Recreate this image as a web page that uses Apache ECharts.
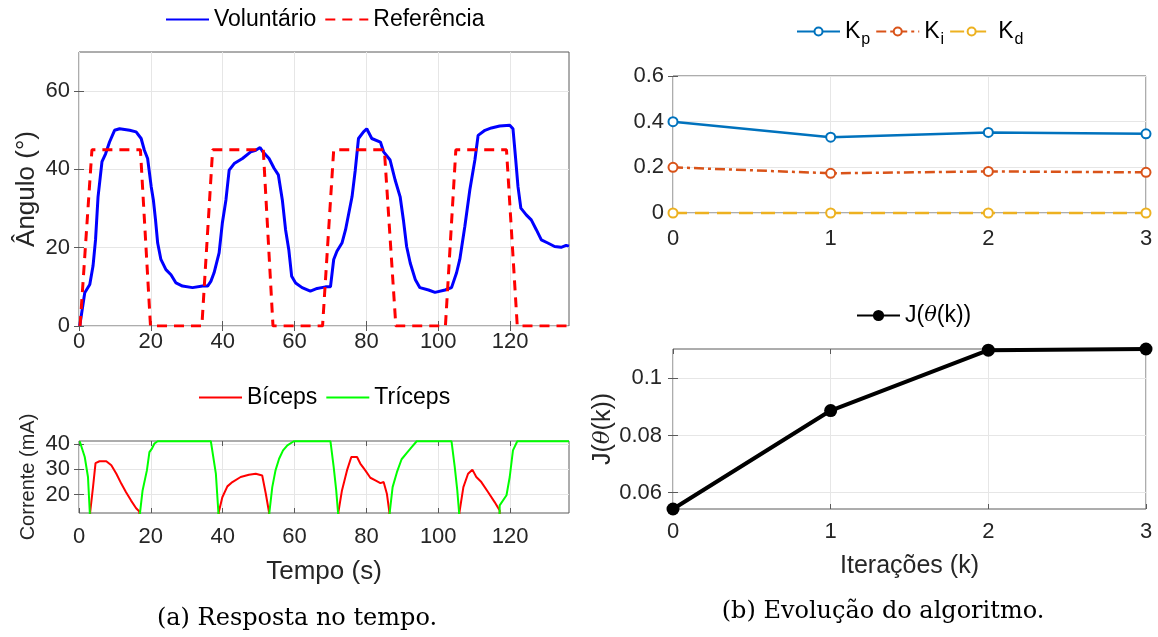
<!DOCTYPE html>
<html>
<head>
<meta charset="utf-8">
<script src="https://cdn.jsdelivr.net/npm/echarts@6/dist/echarts.min.js"></script>
<style>
html, body { margin: 0; padding: 0; background: #fff; }
#chart { width: 1158px; height: 637px; }
</style>
</head>
<body>
<div id="chart"></div>
<script>
// (a) angulo do voluntario x tempo
const tempoVol = [0.2, 1.6, 3.0, 3.9, 4.6, 5.3, 6.4, 7.4, 8.5, 9.9, 11.3, 14.1, 15.9, 17.3, 18.2, 19.1, 20.1, 20.7, 21.3, 21.9, 22.8, 24.2, 25.6, 27.0, 28.8, 31.6, 34.4, 35.8, 36.7, 37.6, 39.0, 39.9, 40.9, 41.8, 43.2, 45.5, 47.8, 49.2, 50.4, 51.2, 52.9, 54.3, 55.5, 56.6, 57.5, 58.4, 59.2, 60.3, 62.1, 64.4, 66.3, 68.6, 70.0, 70.9, 71.8, 73.2, 74.2, 75.1, 76.0, 76.9, 77.8, 79.2, 80.1, 81.5, 83.9, 84.8, 86.6, 88.0, 89.4, 90.3, 91.2, 92.2, 93.6, 94.9, 97.3, 99.1, 101.9, 103.7, 105.1, 106.0, 107.4, 108.8, 110.2, 111.1, 113.0, 114.8, 117.1, 119.9, 120.8, 121.5, 122.2, 123.0, 124.5, 125.9, 127.3, 128.7, 130.5, 132.4, 134.2, 135.6, 136.4];
const anguloVol = [0, 8.5, 10.6, 15.3, 22, 33, 42, 44, 47, 50, 50.4, 50, 49.6, 47.9, 44.9, 42.8, 35.6, 32.2, 27.1, 21.2, 17, 14.4, 13.1, 11, 10.2, 9.8, 10.2, 10.2, 11.4, 13.6, 18.7, 26.3, 32.2, 39.8, 41.5, 42.8, 44.5, 44.9, 45.6, 44.5, 42.8, 40.3, 38.6, 32.2, 24.6, 19.5, 12.7, 11, 9.8, 8.9, 9.6, 10, 10, 17, 19.1, 21.2, 24.6, 28.8, 33, 39.8, 47.9, 49.6, 50.4, 47.9, 47, 44.5, 42.4, 37.3, 33, 27.1, 20.3, 16.1, 11.9, 9.8, 9.2, 8.6, 9.2, 9.8, 13.6, 17, 25.4, 34.8, 42.4, 48.7, 50, 50.6, 51.1, 51.3, 50.4, 43.2, 35.6, 30.1, 28.4, 27.1, 24.6, 22, 21.2, 20.3, 20.1, 20.6, 20.4];
const tempoRef = [0.3, 3.6, 17.1, 19.9, 34.2, 37.2, 51.3, 54.0, 67.8, 70.9, 85.0, 88.2, 102.0, 104.9, 119.0, 122.0, 136.4];
const anguloRef = [0, 45, 45, 0, 0, 45, 45, 0, 0, 45, 45, 0, 0, 45, 45, 0, 0];

// correntes de estimulacao (0 = desligado)
const tempoBic = [0, 3.0, 3.1, 3.9, 4.6, 5.7, 7.6, 9.0, 10.4, 11.8, 13.1, 14.5, 15.9, 16.8, 17.0, 38.8, 38.9, 39.9, 41.3, 42.7, 45.0, 47.3, 49.2, 51.0, 52.0, 52.9, 53.0, 72.1, 72.2, 73.2, 74.6, 75.8, 77.4, 78.3, 79.7, 81.1, 82.5, 83.9, 84.8, 85.7, 86.4, 86.5, 105.8, 105.9, 107.0, 108.3, 109.5, 110.6, 112.0, 113.9, 115.7, 117.1, 117.3, 136.4];
const corrBic = [0, 0, 13, 23, 32.5, 33.2, 33.2, 31.6, 28.3, 24.3, 21, 17.7, 14.7, 13.4, 0, 0, 13.1, 19, 23.3, 25, 27, 27.9, 28.3, 27.6, 20.4, 13.1, 0, 0, 13.1, 21.7, 29.6, 34.9, 34.9, 32.3, 29.6, 26.7, 25.7, 24.6, 25, 20.4, 13.1, 0, 0, 13.1, 23, 28.3, 29.9, 27, 25, 21, 17.1, 13.8, 0, 0];
const tempoTri = [0.2, 1.6, 2.5, 3.0, 3.1, 16.9, 17.0, 17.7, 18.9, 19.6, 20.3, 21.0, 21.9, 36.7, 38.1, 38.8, 38.9, 52.9, 53.0, 53.8, 54.7, 55.7, 56.8, 58.0, 59.8, 70.0, 70.9, 71.6, 72.1, 72.2, 86.4, 86.5, 87.3, 88.5, 89.8, 91.2, 92.6, 94.0, 103.7, 104.6, 105.3, 105.8, 105.9, 117.0, 117.1, 119.0, 119.9, 120.8, 122.0, 136.4];
const corrTri = [41.1, 34.9, 27, 13.1, 0, 0, 13.1, 21.7, 29.6, 36.8, 38.2, 40.2, 41.1, 41.1, 28.3, 13.1, 0, 0, 13.1, 23, 29.6, 34.2, 37.5, 39.5, 41.1, 41.1, 30.9, 21.7, 13.1, 0, 0, 13.1, 23, 28.9, 34, 36.4, 38.8, 41.1, 41.1, 30.9, 21.7, 13.1, 0, 0, 15.8, 19.8, 27, 37.5, 41.1, 41.1];

// (b) evolucao do algoritmo
const iteracoes = [0, 1, 2, 3];
const kp = [0.400, 0.332, 0.353, 0.347];
const ki = [0.200, 0.174, 0.182, 0.178];
const kd = [0, 0, 0, 0];
const custoJ = [0.0543, 0.0887, 0.1098, 0.1102];

const ticksTempo = [0, 20, 40, 60, 80, 100, 120];
const ticksAngulo = [0, 20, 40, 60];
const ticksCorrente = [20, 30, 40];
const ticksIter = [0, 1, 2, 3];
const ticksGanho = [0, 0.2, 0.4, 0.6];
const ticksJ = [0.06, 0.08, 0.1];

function zip(xs, ys) {
  return xs.map((x, i) => [x, ys[i]]);
}

const FONT = 'Liberation Sans';
const boxColor = '#5a5a5a';
const gridColor = '#e6e6e6';

function mkAxis(dim, gridIndex, min, max, cfg) {
  const mirror = !!cfg.mirror;
  const ax = {
    type: 'value',
    gridIndex: gridIndex,
    min: min,
    max: max,
    position: dim === 'x' ? (mirror ? 'top' : 'bottom') : (mirror ? 'right' : 'left'),
    axisLine: { show: false },
    axisTick: { show: true, inside: true, length: 5, customValues: cfg.ticks, lineStyle: { color: boxColor, width: 1 } },
    axisLabel: {
      show: !mirror,
      customValues: cfg.ticks,
      color: '#262626',
      fontFamily: FONT,
      fontSize: 22,
      margin: cfg.margin || 8,
      showMaxLabel: true,
      showMinLabel: true
    },
    splitLine: { show: !mirror, lineStyle: { color: gridColor, width: 1 } }
  };
  if (cfg.name && !mirror) {
    ax.name = cfg.name;
    ax.nameLocation = 'middle';
    ax.nameGap = cfg.nameGap;
    ax.nameTextStyle = Object.assign({ fontFamily: FONT, fontSize: cfg.nameSize || 25, color: '#262626' }, cfg.nameStyle || {});
  }
  return ax;
}

function both(dim, gridIndex, min, max, cfg) {
  return [mkAxis(dim, gridIndex, min, max, cfg), mkAxis(dim, gridIndex, min, max, Object.assign({}, cfg, { mirror: true }))];
}

const xAxes = [].concat(
  both('x', 0, 0, 136.4, { ticks: ticksTempo, margin: 5 }),
  both('x', 1, 0, 136.4, { ticks: ticksTempo, margin: 13, name: 'Tempo (s)', nameGap: 46, nameSize: 26 }),
  both('x', 2, 0, 3, { ticks: ticksIter, margin: 15 }),
  both('x', 3, 0, 3, { ticks: ticksIter, margin: 12, name: 'Iterações (k)', nameGap: 45 })
);
const yAxes = [].concat(
  both('y', 0, 0, 70, { ticks: ticksAngulo, margin: 9, name: 'Ângulo (°)', nameGap: 39, nameSize: 26 }),
  both('y', 1, 12.8, 41.2, { ticks: ticksCorrente, margin: 9, name: 'Corrente (mA)', nameGap: 41, nameSize: 20 }),
  both('y', 2, 0, 0.6, { ticks: ticksGanho, margin: 9 }),
  both('y', 3, 0.0543, 0.1102, { ticks: ticksJ, margin: 11, name: '{a|J(}{b|θ}{a|(k))}', nameGap: 56,
    nameStyle: { rich: { a: { fontFamily: FONT, fontSize: 25, color: '#262626' }, b: { fontFamily: 'DejaVu Serif', fontStyle: 'italic', fontSize: 23, color: '#262626' } } } })
);

const gridBase = { show: true, borderColor: boxColor, borderWidth: 1, backgroundColor: '#fff' };
const grids = [
  Object.assign({ left: 79, top: 52, width: 490, height: 274 }, gridBase),
  Object.assign({ left: 79, top: 441, width: 490, height: 72 }, gridBase),
  Object.assign({ left: 673, top: 76, width: 473, height: 137 }, gridBase),
  Object.assign({ left: 673, top: 349, width: 473, height: 160 }, gridBase)
];

function lineSeries(name, gi, data, color, width, type, extra) {
  return Object.assign({
    name: name,
    type: 'line',
    xAxisIndex: gi * 2,
    yAxisIndex: gi * 2,
    data: data,
    symbol: 'none',
    color: color,
    lineStyle: { color: color, width: width, type: type || 'solid' },
    emphasis: { disabled: true },
    animation: false
  }, extra || {});
}

const marcador = { symbol: 'emptyCircle', symbolSize: 9, itemStyle: { borderWidth: 2 }, clip: false };
const series = [
  lineSeries('Voluntário', 0, zip(tempoVol, anguloVol), '#0000ff', 3),
  lineSeries('Referência', 0, zip(tempoRef, anguloRef), '#ff0000', 3, [10, 7]),
  lineSeries('Bíceps', 1, zip(tempoBic, corrBic), '#ff0000', 2),
  lineSeries('Tríceps', 1, zip(tempoTri, corrTri), '#00ff00', 2),
  lineSeries('Kp', 2, zip(iteracoes, kp), '#0072bd', 2.5, 'solid', marcador),
  lineSeries('Ki', 2, zip(iteracoes, ki), '#d95319', 2.5, [10, 4, 3, 4], marcador),
  lineSeries('Kd', 2, zip(iteracoes, kd), '#edb120', 2.5, [14, 8], marcador),
  lineSeries('J', 3, zip(iteracoes, custoJ), '#000000', 4, 'solid', { symbol: 'circle', symbolSize: 13, clip: false })
];

const legendText = { fontFamily: FONT, fontSize: 23, color: '#000' };
const legendBase = { orient: 'horizontal', itemWidth: 43, itemHeight: 12, itemGap: 8, padding: 0, textStyle: legendText, selectedMode: false };
const semMarcador = { itemStyle: { opacity: 0 } };

const option = {
  backgroundColor: '#fff',
  animation: false,
  grid: grids,
  xAxis: xAxes,
  yAxis: yAxes,
  legend: [
    Object.assign({}, legendBase, semMarcador, { data: ['Voluntário', 'Referência'], left: 165, top: 8 }),
    Object.assign({}, legendBase, semMarcador, { data: ['Bíceps', 'Tríceps'], left: 198, top: 386 }),
    Object.assign({}, legendBase, {
      data: ['Kp', 'Ki', 'Kd'], left: 796, top: 20, itemHeight: 10, itemGap: 5,
      formatter: n => '{k|K}{s|' + n.slice(1) + '}',
      textStyle: Object.assign({}, legendText, { rich: { k: { fontFamily: FONT, fontSize: 23, color: '#000' }, s: { fontFamily: FONT, fontSize: 16, color: '#000', padding: [16, 0, 0, 1] } } })
    }),
    Object.assign({}, legendBase, {
      data: ['J'], left: 856, top: 304, itemHeight: 14,
      formatter: () => '{a|J(}{b|θ}{a|(k))}',
      textStyle: Object.assign({}, legendText, { rich: { a: { fontFamily: FONT, fontSize: 23, color: '#000' }, b: { fontFamily: 'DejaVu Serif', fontStyle: 'italic', fontSize: 21, color: '#000' } } })
    })
  ],
  graphic: [
    { type: 'text', x: 297, y: 619, style: { text: '(a) Resposta no tempo.', font: '24px "DejaVu Serif"', fill: '#000', textAlign: 'center', textVerticalAlign: 'middle' } },
    { type: 'text', x: 883, y: 612, style: { text: '(b) Evolução do algoritmo.', font: '24px "DejaVu Serif"', fill: '#000', textAlign: 'center', textVerticalAlign: 'middle' } }
  ],
  series: series
};

const chart = echarts.init(document.getElementById('chart'), null, { renderer: 'canvas' });
chart.setOption(option);
</script>
</body>
</html>
